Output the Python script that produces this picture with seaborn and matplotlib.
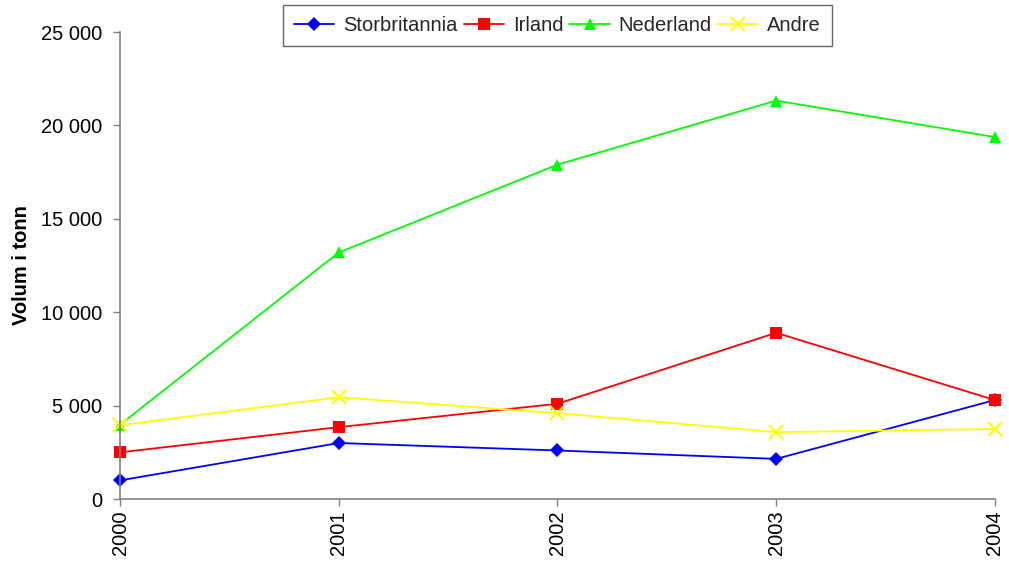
import pandas as pd
import matplotlib.pyplot as plt
import matplotlib.ticker as mticker
import seaborn as sns

years = [2000, 2001, 2002, 2003, 2004]
storbritannia = [1000, 3000, 2600, 2150, 5300]
irland = [2500, 3850, 5100, 8900, 5300]
nederland = [3980, 13200, 17900, 21330, 19380]
andre = [3950, 5450, 4600, 3580, 3750]

series = ['Storbritannia', 'Irland', 'Nederland', 'Andre']
colors = ['#0000ff', '#ff0000', '#00ff00', '#ffff00']
markers = ['D', 's', '^', 'x']
sizes = [7, 8, 9, 10]


def build_df():
   df = pd.DataFrame({'year': years, 'Storbritannia': storbritannia,
                      'Irland': irland, 'Nederland': nederland,
                      'Andre': andre})
   return pd.melt(df, id_vars=['year'], var_name='land', value_name='volum')


def plot(df, outname):
   sns.set_style('white')
   plt.rcParams['font.family'] = ['Liberation Sans', 'DejaVu Sans']
   fs = 14.5
   fig = plt.figure(figsize=(10.09, 5.62), dpi=100)
   ax = fig.add_axes([0.119, 0.112, 0.867, 0.831])

   for name, col, mk, ms in zip(series, colors, markers, sizes):
      sub = df[df.land == name]
      sns.lineplot(data=sub, x='year', y='volum', ax=ax, color=col,
                   marker=mk, markersize=ms, markeredgecolor=col,
                   markeredgewidth=1.5 if mk == 'x' else 0,
                   linewidth=1.3, label=name)

   ax.set_xlim(2000, 2004)
   ax.set_ylim(0, 25000)
   ax.set_xticks(years)
   ax.set_xticklabels([str(y) for y in years], rotation=90, fontsize=fs)
   ax.yaxis.set_major_locator(mticker.MultipleLocator(5000))
   ax.yaxis.set_major_formatter(mticker.FuncFormatter(
      lambda v, p: '{:,.0f}'.format(v).replace(',', ' ')))
   ax.tick_params(axis='y', labelsize=fs, pad=8)
   ax.tick_params(axis='both', direction='out', length=5, width=1,
                  color='#808080', labelcolor='black', left=True, bottom=True)
   ax.set_xlabel('')
   ax.set_ylabel('Volum i tonn', fontsize=fs, fontweight='bold', labelpad=7,
                 color='black')

   for s in ['top', 'right']:
      ax.spines[s].set_visible(False)
   for s in ['left', 'bottom']:
      ax.spines[s].set_color('#808080')
      ax.spines[s].set_linewidth(1.2)
   for line in ax.lines:
      line.set_clip_on(False)

   leg = ax.legend(loc='upper center', bbox_to_anchor=(0.5, 1.058), ncol=4,
                   fontsize=fs, frameon=True, fancybox=False,
                   handlelength=2.0, columnspacing=0.3, handletextpad=0.45,
                   borderpad=0.55, borderaxespad=0)
   leg.get_frame().set_edgecolor('#404040')
   leg.get_frame().set_linewidth(1.0)

   fig.savefig(outname, dpi=100)


def main():
   df = build_df()
   plot(df, 'out.png')


if __name__ == '__main__':
   main()
